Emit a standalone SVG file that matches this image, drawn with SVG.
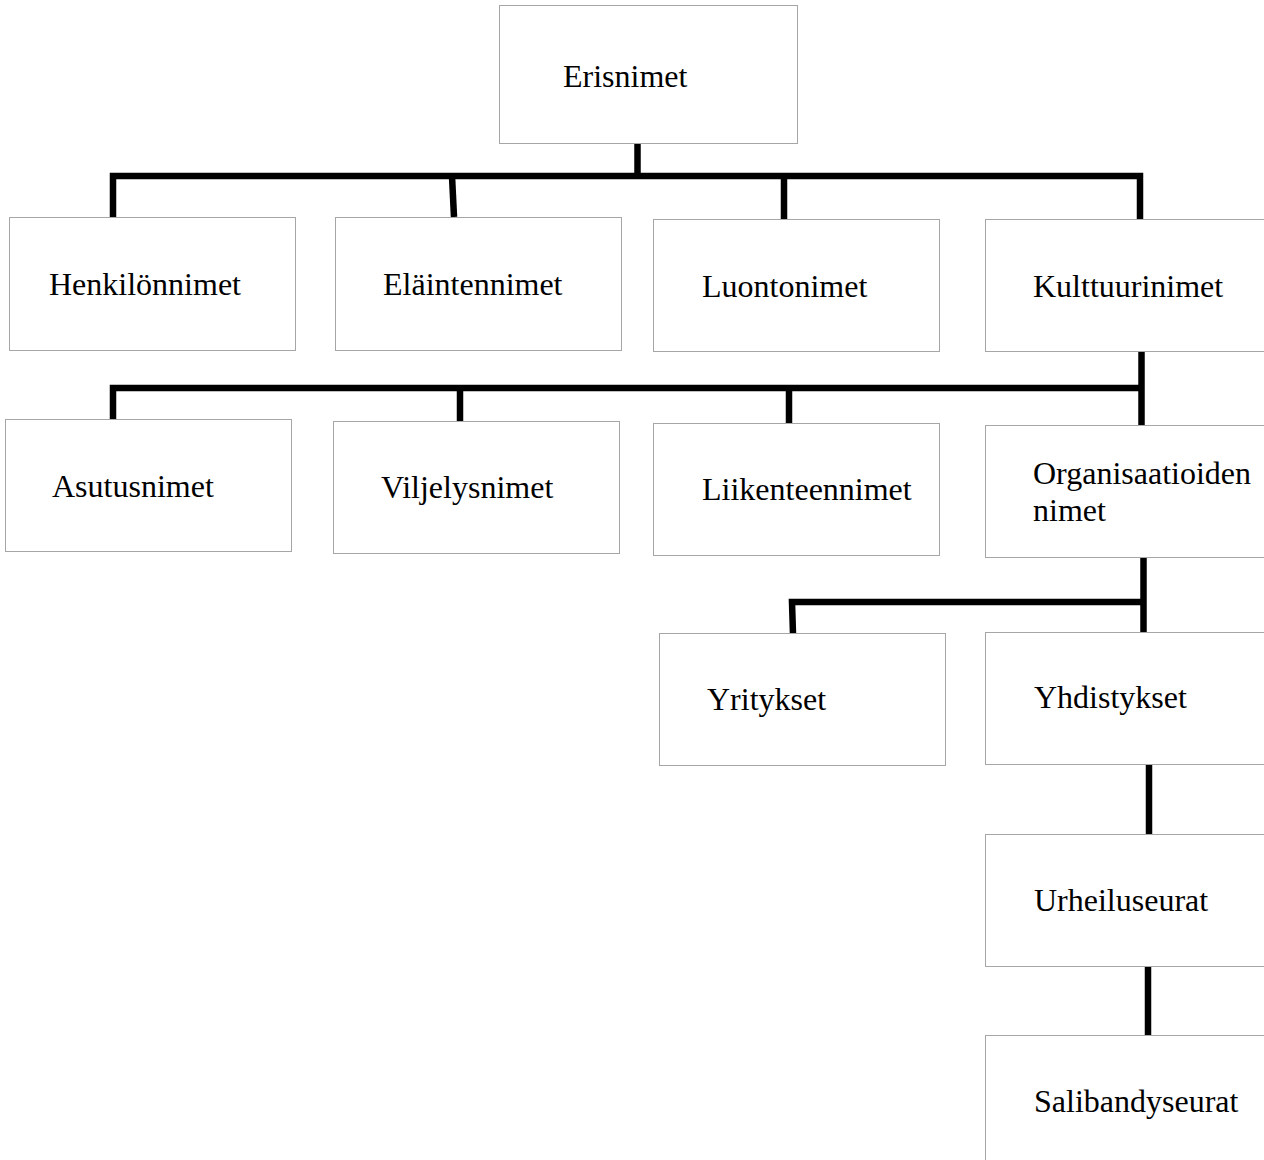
<svg xmlns="http://www.w3.org/2000/svg" width="1264" height="1160" viewBox="0 0 1264 1160">
<style>
.box{fill:#ffffff;stroke:#a6a6a6;stroke-width:1}
.lbl{font-family:"Liberation Serif","Times New Roman",serif;font-size:32px;fill:#000000}
.con{fill:none;stroke:#000000;stroke-width:6.5;stroke-linejoin:miter;stroke-linecap:butt}
</style>
<rect width="1264" height="1160" fill="#ffffff"/>
<g id="connectors">
<line class="con" x1="637.5" y1="143" x2="637.5" y2="176"/>
<polyline class="con" points="113,217 113,176 1140,176 1140,219"/>
<line class="con" x1="452" y1="176" x2="454" y2="217"/>
<line class="con" x1="784" y1="176" x2="784" y2="219"/>
<line class="con" x1="1141.5" y1="351" x2="1141.5" y2="425"/>
<polyline class="con" points="113,419 113,388 1141.5,388"/>
<line class="con" x1="460" y1="388" x2="460" y2="421"/>
<line class="con" x1="789" y1="388" x2="789" y2="423"/>
<line class="con" x1="1143.5" y1="557" x2="1143.5" y2="632"/>
<polyline class="con" points="793,634 792,602 1143.5,602"/>
<line class="con" x1="1149" y1="764" x2="1149" y2="834"/>
<line class="con" x1="1148" y1="966" x2="1148" y2="1035"/>
</g>
<g id="erisnimet"><rect class="box" x="499.5" y="5.5" width="298" height="138"/><text class="lbl" x="563" y="87">Erisnimet</text></g>
<g id="henkilonnimet"><rect class="box" x="9.5" y="217.5" width="286" height="133"/><text class="lbl" x="49" y="295">Henkilönnimet</text></g>
<g id="elaintennimet"><rect class="box" x="335.5" y="217.5" width="286" height="133"/><text class="lbl" x="383" y="295">Eläintennimet</text></g>
<g id="luontonimet"><rect class="box" x="653.5" y="219.5" width="286" height="132"/><text class="lbl" x="702" y="297">Luontonimet</text></g>
<g id="kulttuurinimet"><rect class="box" x="985.5" y="219.5" width="300" height="132"/><text class="lbl" x="1033" y="297">Kulttuurinimet</text></g>
<g id="asutusnimet"><rect class="box" x="5.5" y="419.5" width="286" height="132"/><text class="lbl" x="52" y="497">Asutusnimet</text></g>
<g id="viljelysnimet"><rect class="box" x="333.5" y="421.5" width="286" height="132"/><text class="lbl" x="381" y="498">Viljelysnimet</text></g>
<g id="liikenteennimet"><rect class="box" x="653.5" y="423.5" width="286" height="132"/><text class="lbl" x="702" y="500">Liikenteennimet</text></g>
<g id="organisaatioiden"><rect class="box" x="985.5" y="425.5" width="300" height="132"/><text class="lbl" x="1033" y="484">Organisaatioiden</text><text class="lbl" x="1033" y="521">nimet</text></g>
<g id="yritykset"><rect class="box" x="659.5" y="633.5" width="286" height="132"/><text class="lbl" x="707" y="710">Yritykset</text></g>
<g id="yhdistykset"><rect class="box" x="985.5" y="632.5" width="300" height="132"/><text class="lbl" x="1034" y="708">Yhdistykset</text></g>
<g id="urheiluseurat"><rect class="box" x="985.5" y="834.5" width="300" height="132"/><text class="lbl" x="1034" y="911">Urheiluseurat</text></g>
<g id="salibandyseurat"><rect class="box" x="985.5" y="1035.5" width="300" height="140"/><text class="lbl" x="1034" y="1112">Salibandyseurat</text></g>
</svg>
